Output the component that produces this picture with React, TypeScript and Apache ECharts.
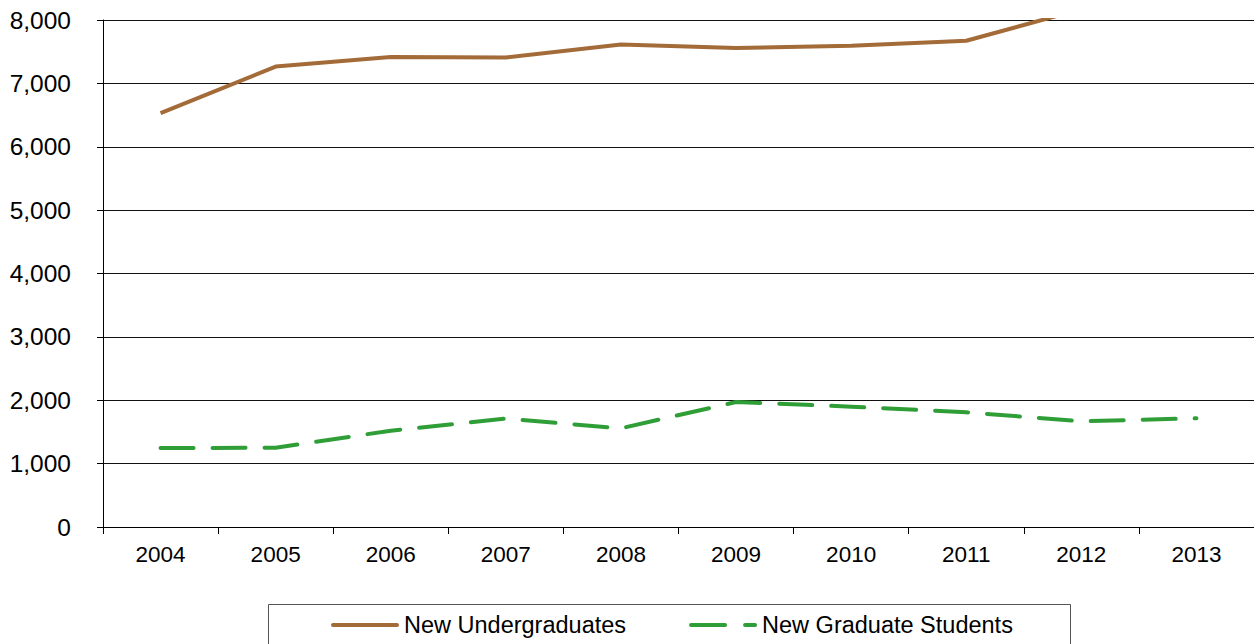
import React, { useEffect, useRef } from "react";
import * as echarts from "echarts";

const years = ["2004", "2005", "2006", "2007", "2008", "2009", "2010", "2011", "2012", "2013"];
const undergrad = [6530, 7265, 7415, 7410, 7612, 7558, 7592, 7672, 8170, 8300];
const graduate = [1245, 1250, 1520, 1710, 1557, 1972, 1899, 1810, 1668, 1715];
const yTicks = { min: 0, max: 8000, interval: 1000 };
const seriesNames = ["New Undergraduates", "New Graduate Students"];

const FONT = "Liberation Sans, Arial, sans-serif";
const BROWN = "#A36B38";
const GREEN = "#2F9E37";

const solidIcon =
  "path://M2,0h64a2,2 0 0 1 0,4h-64a2,2 0 0 1 0,-4z";
const dashIcon =
  "path://M2,0h34a2,2 0 0 1 0,4h-34a2,2 0 0 1 0,-4z M56,0h10a2,2 0 0 1 0,4h-10a2,2 0 0 1 0,-4z";

export default function App() {
  const ref = useRef<HTMLDivElement>(null);
  useEffect(() => {
    if (!ref.current) return;
    const chart = echarts.init(ref.current, null, { renderer: "svg" });
    chart.setOption({
      animation: false,
      backgroundColor: "#fff",
      grid: { left: 103, top: 20, right: -1, bottom: 117, containLabel: false },
      xAxis: {
        type: "category",
        data: years,
        boundaryGap: true,
        axisLine: { lineStyle: { color: "#000", width: 1 } },
        axisTick: { show: true, length: 7, lineStyle: { color: "#000" } },
        axisLabel: { color: "#000", fontSize: 22.5, fontFamily: FONT, margin: 16 },
      },
      yAxis: {
        type: "value",
        min: yTicks.min,
        max: yTicks.max,
        interval: yTicks.interval,
        axisLine: { show: true, lineStyle: { color: "#000", width: 1 } },
        axisTick: { show: true, length: 6, lineStyle: { color: "#000" } },
        axisLabel: {
          color: "#000",
          fontSize: 24.5,
          fontFamily: FONT,
          margin: 32,
          formatter: (v: number) => v.toLocaleString("en-US"),
        },
        splitLine: { show: true, lineStyle: { color: "#111", width: 1 } },
      },
      legend: {
        data: [
          { name: seriesNames[0], icon: solidIcon },
          { name: seriesNames[1], icon: dashIcon },
        ],
        left: 326,
        top: 608,
        itemWidth: 68,
        itemHeight: 4,
        itemGap: 63,
        textStyle: { color: "#000", fontSize: 23.5, fontFamily: FONT },
      },
      graphic: [
        {
          type: "rect",
          shape: { x: 268.5, y: 604.5, width: 802, height: 60 },
          style: { fill: "none", stroke: "#555", lineWidth: 1 },
          silent: true,
        },
      ],
      series: [
        {
          name: seriesNames[0],
          type: "line",
          data: undergrad,
          symbol: "none",
          clip: true,
          lineStyle: { color: BROWN, width: 4 },
          itemStyle: { color: BROWN },
        },
        {
          name: seriesNames[1],
          type: "line",
          data: graduate,
          symbol: "none",
          clip: true,
          lineStyle: { color: GREEN, width: 4, type: [33, 19], cap: "round" },
          itemStyle: { color: GREEN },
        },
      ],
    });
    return () => chart.dispose();
  }, []);
  return (
    <div
      ref={ref}
      style={{ position: "fixed", left: 0, top: 0, width: 1254, height: 644, background: "#fff" }}
    />
  );
}
